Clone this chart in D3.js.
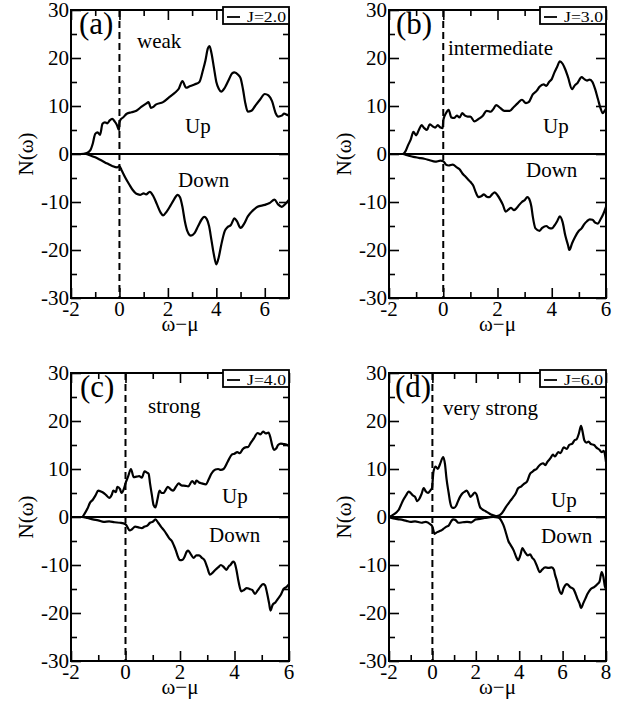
<!DOCTYPE html>
<html lang="en">
<head>
  <meta charset="UTF-8">
  <title>N(w) spin up / down</title>
  <style>
    body { margin: 0; background: #fff; }
    svg text { font-family: "Liberation Serif", "DejaVu Serif", serif; fill: #000; }
  </style>
</head>
<body>
  <svg></svg>
  <script src="https://cdn.jsdelivr.net/npm/d3@7"></script>
  <script>
    // ---- data: [omega - mu, N(omega)] ----
    var upA = [[-2,0],[-1.6,0],[-1.35,0.2],[-1.2,0.8],[-1.1,2.2],[-1.0,4.2],[-0.9,4.5],[-0.8,4],[-0.7,6.3],[-0.6,6.6],[-0.5,6.4],[-0.4,7],[-0.3,7.3],[-0.2,6.8],[-0.1,6],[-0.02,5],[0,6.5],[0.05,7.2],[0.15,7.6],[0.3,8.4],[0.5,8.7],[0.7,9],[0.9,9.8],[1.1,10.5],[1.2,10.8],[1.3,9.6],[1.4,9.8],[1.5,10.3],[1.8,10.8],[2.1,12],[2.3,12.8],[2.45,13.6],[2.6,15.2],[2.75,13.8],[2.9,14.1],[3.1,14.5],[3.3,15],[3.45,17.5],[3.55,19.5],[3.65,22],[3.72,22.5],[3.8,21],[3.9,18],[4.0,15],[4.1,13.6],[4.2,13],[4.35,13.8],[4.5,15.3],[4.65,16.8],[4.75,17],[4.9,16.5],[5.0,15.8],[5.1,13.5],[5.2,10.5],[5.3,8.8],[5.45,9],[5.6,10],[5.8,11.3],[6.0,12.5],[6.15,12.2],[6.3,11],[6.45,8.5],[6.55,7.8],[6.7,8],[6.8,8.4],[6.9,8.2],[7.0,8]];
    var downA = [[-2,0],[-1.4,0],[-1.2,-0.3],[-1.0,-0.7],[-0.8,-1.2],[-0.5,-2],[-0.3,-2.5],[-0.1,-2.8],[0,-2.5],[0.1,-3.5],[0.25,-5],[0.4,-6.3],[0.55,-7.5],[0.7,-8.3],[0.85,-8.5],[1.0,-8.2],[1.1,-8.4],[1.25,-7.9],[1.4,-8.8],[1.55,-10.5],[1.7,-12.2],[1.8,-12.8],[1.95,-12],[2.1,-10.8],[2.25,-9.5],[2.4,-8.5],[2.5,-9],[2.6,-11],[2.7,-14],[2.8,-16],[2.95,-17],[3.1,-16.5],[3.25,-15],[3.4,-13.6],[3.5,-13.1],[3.6,-13.5],[3.7,-15],[3.8,-18],[3.9,-21],[4.0,-23],[4.1,-21.5],[4.2,-19],[4.35,-16],[4.45,-15.3],[4.6,-14.8],[4.75,-13.4],[4.85,-14],[5.0,-15.4],[5.15,-14.5],[5.3,-13],[5.5,-11.8],[5.7,-11],[6.0,-10.6],[6.2,-10.2],[6.4,-9.5],[6.55,-10.5],[6.7,-11],[6.85,-10.4],[7.0,-9.5]];

    var upB = [[-2,0],[-1.5,0],[-1.4,0.5],[-1.3,1.8],[-1.2,3],[-1.1,4.6],[-1.0,3.9],[-0.9,5],[-0.8,6],[-0.7,5.4],[-0.6,5],[-0.5,6.2],[-0.4,5.8],[-0.3,5.5],[-0.2,6],[-0.1,5.5],[-0.02,5.4],[0,7],[0.1,8.5],[0.2,9.2],[0.3,7.6],[0.4,7.5],[0.5,8],[0.6,7.6],[0.7,8.5],[0.8,8],[0.9,7.8],[1.0,7.8],[1.15,6.8],[1.3,7.3],[1.45,7.9],[1.6,9],[1.75,8.8],[1.85,9.4],[1.95,10.2],[2.1,9.6],[2.25,9],[2.45,9],[2.6,9.8],[2.75,10.6],[2.9,11.3],[3.05,10.6],[3.15,10.8],[3.3,12.4],[3.45,13.2],[3.55,14],[3.7,14.5],[3.8,14.2],[3.9,15],[4.0,15.6],[4.1,17],[4.2,18.2],[4.3,19.3],[4.4,18.8],[4.5,17.6],[4.6,16],[4.75,13.5],[4.85,14.3],[4.95,14.8],[5.1,16],[5.2,15.6],[5.3,15.3],[5.4,15.5],[5.5,15],[5.6,13.5],[5.7,11.5],[5.8,9.5],[5.88,8.5],[5.95,9],[6.0,9.5]];
    var downB = [[-2,0],[-1.5,0],[-1.3,-0.3],[-1.1,-0.6],[-0.9,-0.8],[-0.7,-1],[-0.5,-1.3],[-0.3,-1.6],[-0.1,-1.4],[0,-1.5],[0.1,-2.2],[0.2,-2.4],[0.35,-2.2],[0.5,-2.8],[0.6,-3.2],[0.7,-4],[0.8,-4.6],[0.9,-5.2],[1.0,-5.8],[1.1,-6.5],[1.2,-8],[1.3,-9],[1.4,-8.8],[1.5,-8.4],[1.6,-8.9],[1.7,-9],[1.8,-8.4],[1.9,-8],[2.0,-8.6],[2.1,-9.5],[2.2,-10.6],[2.3,-12],[2.4,-11.6],[2.5,-11.2],[2.6,-11.7],[2.7,-11.3],[2.8,-10.6],[2.9,-10],[3.0,-9.6],[3.1,-9],[3.2,-9.8],[3.25,-11],[3.3,-13],[3.4,-15.5],[3.55,-16],[3.65,-15.4],[3.8,-15],[3.9,-15.4],[4.0,-15.5],[4.1,-14.9],[4.2,-14],[4.3,-13],[4.4,-14.2],[4.5,-17],[4.6,-19],[4.65,-20],[4.75,-18.6],[4.85,-17.4],[5.0,-16],[5.1,-15.5],[5.2,-14.6],[5.3,-14],[5.4,-13.6],[5.5,-13.7],[5.6,-14.3],[5.7,-14.5],[5.8,-13.6],[5.9,-12.5],[6.0,-11]];

    var upC = [[-2,0],[-1.6,0],[-1.5,0.7],[-1.4,1.7],[-1.3,3],[-1.2,3.6],[-1.1,4.5],[-1.0,5.5],[-0.9,5.3],[-0.8,5],[-0.7,4.5],[-0.6,4],[-0.5,4.7],[-0.45,5.5],[-0.35,5.2],[-0.3,6.3],[-0.2,5.8],[-0.15,5],[-0.05,6],[0,7],[0.1,8.5],[0.2,10],[0.3,8.3],[0.4,8.4],[0.5,8.5],[0.6,8.2],[0.7,9.5],[0.8,9.2],[0.85,9],[0.9,7],[0.97,4.5],[1.03,2.5],[1.1,2],[1.17,3.6],[1.25,5.5],[1.32,5],[1.4,5],[1.47,5.6],[1.55,6.3],[1.65,5.8],[1.75,5.5],[1.85,6.3],[1.95,7],[2.05,6.6],[2.2,6.5],[2.3,6.4],[2.45,7.5],[2.55,6.9],[2.6,7.6],[2.7,7.2],[2.8,7],[2.95,6.8],[3.05,7.8],[3.15,9],[3.3,9.9],[3.4,10],[3.5,9.8],[3.6,10],[3.75,11.5],[3.9,13],[4.0,13.2],[4.1,13.5],[4.2,13.3],[4.3,14.1],[4.4,14.5],[4.5,14.6],[4.6,15.5],[4.7,16.3],[4.85,17.5],[4.95,17.2],[5.05,17.8],[5.15,17.4],[5.25,17.6],[5.32,16.5],[5.38,15],[5.45,14],[5.52,14.2],[5.6,15],[5.7,15.3],[5.8,15.2],[5.9,15.1],[6.0,14.8]];
    var downC = [[-2,0],[-1.6,0],[-1.4,-0.2],[-1.2,-0.5],[-1.0,-0.7],[-0.8,-1],[-0.6,-0.9],[-0.4,-1.1],[-0.2,-1.2],[0,-1.5],[0.08,-2.2],[0.15,-2.8],[0.25,-2.5],[0.35,-2],[0.5,-2.2],[0.6,-2.3],[0.7,-2],[0.8,-1.8],[0.9,-1.2],[1.0,-1],[1.1,-0.5],[1.2,-1.2],[1.3,-2],[1.4,-2.7],[1.5,-3.5],[1.6,-4.4],[1.7,-5],[1.78,-6],[1.85,-7],[1.92,-8.2],[2.0,-9],[2.1,-8.9],[2.15,-8.5],[2.25,-7.2],[2.3,-7],[2.4,-7.8],[2.5,-8.5],[2.6,-8],[2.7,-8],[2.8,-8.5],[2.9,-9],[3.0,-10.5],[3.1,-12],[3.2,-11.6],[3.3,-11],[3.4,-10.5],[3.5,-10],[3.6,-10.4],[3.7,-11],[3.8,-10.2],[3.85,-10],[3.95,-9.3],[4.0,-9.5],[4.07,-11],[4.15,-13.5],[4.25,-15.5],[4.35,-15.2],[4.45,-14.8],[4.55,-15],[4.65,-15.2],[4.75,-16],[4.85,-15.3],[4.95,-14.5],[5.05,-14],[5.12,-14.2],[5.2,-16],[5.27,-18],[5.32,-19.5],[5.4,-18.3],[5.5,-17.8],[5.6,-17],[5.7,-16.2],[5.8,-15],[5.9,-14.6],[6.0,-14]];

    var upD = [[-2,0],[-1.9,0.2],[-1.8,0.5],[-1.65,1],[-1.55,1.5],[-1.45,2.5],[-1.35,3.5],[-1.2,4.6],[-1.1,5.3],[-1.0,5],[-0.9,4.5],[-0.8,4.2],[-0.7,3.3],[-0.6,3.8],[-0.5,4.8],[-0.4,6],[-0.3,5.3],[-0.2,5],[-0.1,5.5],[-0.02,6],[0.05,9.5],[0.15,10.5],[0.25,10],[0.35,11],[0.5,12.5],[0.58,11],[0.65,8],[0.75,5],[0.82,3],[0.9,2],[1.0,1.9],[1.1,2.4],[1.2,3.5],[1.3,4.4],[1.4,5],[1.5,5.3],[1.58,5.5],[1.68,4.8],[1.75,4.2],[1.85,4.6],[1.95,5.1],[2.05,4.5],[2.12,3.2],[2.2,2],[2.3,1.6],[2.45,1.2],[2.6,0.8],[2.7,0.5],[2.85,0.3],[2.95,0.2],[3.1,0.4],[3.2,0.8],[3.35,1.8],[3.45,2.5],[3.6,3.4],[3.7,4],[3.85,5],[3.95,6],[4.1,6.4],[4.25,7],[4.35,7.3],[4.5,9],[4.6,9.4],[4.7,9.8],[4.8,10],[4.9,10.6],[5.0,11],[5.1,11.2],[5.2,10.8],[5.3,11.5],[5.45,12.3],[5.55,13],[5.65,12.6],[5.8,13.5],[5.9,13.3],[6.05,14.5],[6.2,14.2],[6.3,15],[6.45,15.3],[6.55,16],[6.65,16.2],[6.75,17.4],[6.85,19],[6.92,17.8],[7.0,16],[7.1,15.5],[7.2,15.7],[7.3,15.2],[7.45,15],[7.55,14.5],[7.7,14],[7.8,13.5],[7.9,13.8],[8.0,11.5]];
    var downD = [[-2,0],[-1.8,-0.3],[-1.5,-0.5],[-1.2,-0.8],[-1.0,-1],[-0.8,-0.9],[-0.5,-1.2],[-0.3,-1],[-0.1,-1.5],[0,-2],[0.1,-3.5],[0.2,-3.2],[0.3,-3],[0.4,-2.8],[0.5,-2.5],[0.65,-2],[0.75,-1.8],[0.85,-1],[0.95,-0.5],[1.05,-0.6],[1.2,-1.2],[1.4,-1.1],[1.6,-1],[1.8,-1.1],[2.0,-0.5],[2.2,-0.4],[2.4,-0.2],[2.6,-0.1],[2.8,0],[3.0,-0.1],[3.1,-0.3],[3.2,-1],[3.3,-2],[3.4,-3.5],[3.5,-5],[3.6,-5.8],[3.75,-7],[3.85,-8.2],[3.95,-9],[4.05,-8],[4.15,-6.5],[4.25,-7.2],[4.4,-8],[4.5,-7.8],[4.6,-8.5],[4.7,-9],[4.8,-10],[4.95,-11.5],[5.05,-11],[5.2,-10.5],[5.35,-10.6],[5.5,-10.5],[5.6,-11],[5.65,-12],[5.75,-13.5],[5.8,-14.5],[5.95,-16],[6.05,-14.8],[6.2,-14],[6.35,-14.6],[6.5,-15],[6.6,-16],[6.68,-17],[6.78,-18],[6.85,-19],[6.95,-18],[7.05,-17],[7.15,-16],[7.3,-15],[7.45,-14.6],[7.6,-14],[7.7,-13.5],[7.8,-11.5],[7.88,-12.5],[7.95,-14.5],[8.0,-15]];

    var xMaxes = [7, 6, 6, 8]
    var letters = ["(a)", "(b)", "(c)", "(d)"]
    var regimes = ["weak", "intermediate", "strong", "very strong"]
    var legendLabels = ["J=2.0", "J=3.0", "J=4.0", "J=6.0"]
    var yTicks = [-30, -20, -10, 0, 10, 20, 30]
    var upSeries = [upA, upB, upC, upD]
    var downSeries = [downA, downB, downC, downD]

    // ---- layout ----
    var width = 626
    var height = 702
    var frames = [
      {left: 71, right: 289, top: 10, bottom: 298},
      {left: 389, right: 606, top: 10, bottom: 298},
      {left: 71, right: 289, top: 373, bottom: 661},
      {left: 389, right: 606, top: 373, bottom: 661}
    ]
    // text offsets from the frame's top-left corner [dx, dy(baseline)]
    var textPos = [
      {letter: [8, 24], regime: [66, 38], up: [114, 123], down: [107, 177]},
      {letter: [7, 24], regime: [59, 45], up: [154, 123], down: [137, 167]},
      {letter: [9, 24], regime: [77, 40], up: [151, 130], down: [138, 169]},
      {letter: [6, 24], regime: [54, 42], up: [162, 134], down: [152, 170]}
    ]

    var svg = d3.select("svg")
      .attr("width", width)
      .attr("height", height)

    frames.forEach(function(f, i) {
      var x = d3.scaleLinear().domain([-2, xMaxes[i]]).range([f.left, f.right])
      var y = d3.scaleLinear().domain([-30, 30]).range([f.bottom, f.top])
      var g = svg.append("g")
      var w = f.right - f.left
      var h = f.bottom - f.top

      // ticks on all four sides, pointing inward (major + minor)
      var xMajor = d3.range(-2, xMaxes[i] + 0.001, 2)
      var xMinor = d3.range(-1, xMaxes[i], 2)
      var yMinor = d3.range(-25, 30, 10)
      var major = 10, minor = 6

      g.append("g")
        .attr("transform", `translate(0, ${f.bottom})`)
        .call(d3.axisBottom(x).tickValues(xMajor).tickSize(-major).tickFormat(""))
      g.append("g")
        .attr("transform", `translate(0, ${f.bottom})`)
        .call(d3.axisBottom(x).tickValues(xMinor).tickSize(-minor).tickFormat(""))
      g.append("g")
        .attr("transform", `translate(0, ${f.top})`)
        .call(d3.axisTop(x).tickValues(xMajor).tickSize(-major).tickFormat(""))
      g.append("g")
        .attr("transform", `translate(0, ${f.top})`)
        .call(d3.axisTop(x).tickValues(xMinor).tickSize(-minor).tickFormat(""))
      g.append("g")
        .attr("transform", `translate(${f.left}, 0)`)
        .call(d3.axisLeft(y).tickValues(yTicks).tickSize(-major).tickFormat(""))
      g.append("g")
        .attr("transform", `translate(${f.left}, 0)`)
        .call(d3.axisLeft(y).tickValues(yMinor).tickSize(-minor).tickFormat(""))
      g.append("g")
        .attr("transform", `translate(${f.right}, 0)`)
        .call(d3.axisRight(y).tickValues(yTicks).tickSize(-major).tickFormat(""))
      g.append("g")
        .attr("transform", `translate(${f.right}, 0)`)
        .call(d3.axisRight(y).tickValues(yMinor).tickSize(-minor).tickFormat(""))
      g.selectAll(".domain").remove()
      g.selectAll(".tick line").attr("stroke", "#000").attr("stroke-width", 1.6)

      // tick labels
      g.selectAll(".xlab")
        .data(xMajor)
        .join("text")
        .attr("x", d => x(d))
        .attr("y", f.bottom + 18)
        .attr("text-anchor", "middle")
        .attr("font-size", 21)
        .text(d => d < 0 ? "-" + Math.abs(d) : d)
      g.selectAll(".ylab")
        .data(yTicks)
        .join("text")
        .attr("x", f.left - 2)
        .attr("y", d => y(d) + 7)
        .attr("text-anchor", "end")
        .attr("font-size", 21)
        .text(d => d < 0 ? "-" + Math.abs(d) : d)

      // zero line and dashed omega = mu line
      g.append("line")
        .attr("x1", f.left).attr("x2", f.right)
        .attr("y1", y(0)).attr("y2", y(0))
        .attr("stroke", "#000").attr("stroke-width", 2)
      g.append("line")
        .attr("x1", x(0)).attr("x2", x(0))
        .attr("y1", f.top).attr("y2", f.bottom)
        .attr("stroke", "#000").attr("stroke-width", 2)
        .attr("stroke-dasharray", "7,4")

      // curves
      var line = d3.line()
        .x(d => x(d[0]))
        .y(d => y(d[1]))
        .curve(d3.curveMonotoneX)
      ;[upSeries[i], downSeries[i]].forEach(function(s) {
        g.append("path")
          .datum(s)
          .attr("d", line)
          .attr("fill", "none")
          .attr("stroke", "#000")
          .attr("stroke-width", 2.2)
          .attr("stroke-linejoin", "round")
      })

      // frame
      g.append("rect")
        .attr("x", f.left).attr("y", f.top)
        .attr("width", w).attr("height", h)
        .attr("fill", "none").attr("stroke", "#000").attr("stroke-width", 2)

      // annotations
      var t = textPos[i]
      g.append("text")
        .attr("x", f.left + t.letter[0]).attr("y", f.top + t.letter[1])
        .attr("font-size", 31)
        .text(letters[i])
      g.append("text")
        .attr("x", f.left + t.regime[0]).attr("y", f.top + t.regime[1])
        .attr("font-size", 21)
        .text(regimes[i])
      g.append("text")
        .attr("x", f.left + t.up[0]).attr("y", f.top + t.up[1])
        .attr("font-size", 21)
        .text("Up")
      g.append("text")
        .attr("x", f.left + t.down[0]).attr("y", f.top + t.down[1])
        .attr("font-size", 21)
        .text("Down")

      // legend box, sitting on the top-right corner of the frame
      var lw = 66, lh = 17
      var lx = f.right - lw, ly = f.top - 3
      g.append("rect")
        .attr("x", lx).attr("y", ly).attr("width", lw).attr("height", lh)
        .attr("fill", "#fff").attr("stroke", "#000").attr("stroke-width", 1.8)
      g.append("line")
        .attr("x1", lx + 4).attr("x2", lx + 17)
        .attr("y1", ly + 10).attr("y2", ly + 10)
        .attr("stroke", "#000").attr("stroke-width", 1.8)
      g.append("text")
        .attr("x", lx + 24).attr("y", ly + 14.5)
        .attr("font-size", 15)
        .attr("textLength", 39)
        .attr("lengthAdjust", "spacingAndGlyphs")
        .text(legendLabels[i])

      // axis titles
      g.append("text")
        .attr("x", (f.left + f.right) / 2)
        .attr("y", f.bottom + 33)
        .attr("text-anchor", "middle")
        .attr("font-size", 21)
        .text("\u03c9\u2212\u03bc")
      g.append("text")
        .attr("transform", `translate(${f.left - 38}, ${(f.top + f.bottom) / 2}) rotate(-90)`)
        .attr("text-anchor", "middle")
        .attr("font-size", 21)
        .text("N(\u03c9)")
    })
  </script>
</body>
</html>
